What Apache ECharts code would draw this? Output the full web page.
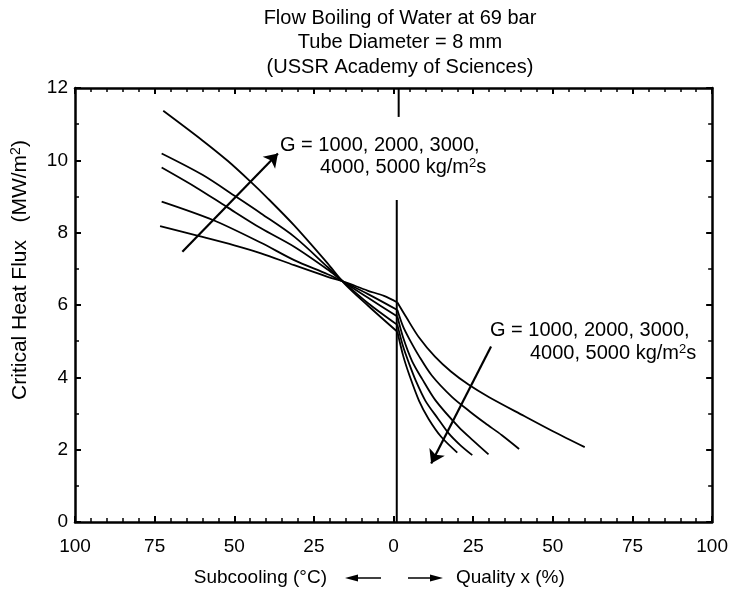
<!DOCTYPE html>
<html><head><meta charset="utf-8">
<script src="https://cdn.jsdelivr.net/npm/echarts@6/dist/echarts.min.js"></script>
<style>html,body{margin:0;padding:0;background:#fff}#c{width:731px;height:606px}</style>
</head><body><div id="c"></div>
<script>
// x < 0 : subcooling (°C), x > 0 : quality x (%)
const massFluxes = [1000, 2000, 3000, 4000, 5000];

const subcooled1000 = [[-73.3,8.18],[-61.3,7.91],[-50,7.65],[-41.6,7.43],[-31.2,7.1],[-20.7,6.78],[-15.5,6.64],[-8.2,6.40],[-3,6.25],[1.2,6.07]];
const subcooled2000 = [[-72.8,8.86],[-56.7,8.35],[-41.6,7.72],[-31.2,7.24],[-20.7,6.85],[-15.5,6.63],[-8,6.3],[1.2,5.86]];
const subcooled3000 = [[-72.8,9.80],[-62,9.25],[-52.5,8.72],[-41.6,8.12],[-31.2,7.61],[-20.7,6.98],[-15.5,6.63],[-8,6.2],[1.2,5.68]];
const subcooled4000 = [[-72.8,10.19],[-60,9.6],[-49.4,8.99],[-41.6,8.53],[-31.2,7.89],[-20.7,7.05],[-15.5,6.62],[-8,6.05],[1.2,5.45]];
const subcooled5000 = [[-72.3,11.37],[-60,10.55],[-52,9.98],[-44.9,9.41],[-39.5,8.95],[-31.2,8.2],[-20.7,7.15],[-15.5,6.6],[-8,5.98],[1.2,5.26]];

const quality1000 = [[1.2,6.07],[4,5.66],[8,5.1],[13,4.57],[18,4.16],[23.5,3.80],[30,3.45],[41,2.93],[50,2.51],[60,2.07]];
const quality2000 = [[1.2,5.86],[3,5.4],[5,5.05],[7.9,4.6],[12,4.05],[18.3,3.46],[24,3.05],[28.8,2.73],[34,2.4],[39.4,2.02]];
const quality3000 = [[1.2,5.68],[3,5.1],[5.8,4.45],[9,3.95],[13.1,3.37],[20.4,2.63],[25,2.25],[29.8,1.87]];
const quality4000 = [[1.2,5.45],[3,4.85],[5,4.35],[7,3.9],[10,3.35],[14,2.85],[17.3,2.45],[21,2.12],[24.7,1.85]];
const quality5000 = [[1.2,5.26],[3,4.6],[5,4.05],[8,3.35],[11,2.85],[15,2.35],[20,1.92]];

const subcooledCurves = [subcooled1000, subcooled2000, subcooled3000, subcooled4000, subcooled5000];
const qualityCurves = [quality1000, quality2000, quality3000, quality4000, quality5000];

const arrowSubcooled = [[-66.3,7.47],[-36.3,10.19]];
const arrowQuality = [[30.6,4.85],[11.8,1.62]];
const saturationLine = [[1,0],[1,8.9]];
const saturationStub = [[1.6,12],[1.6,11.2]];

const titleLines = ['Flow Boiling of Water at 69 bar', 'Tube Diameter = 8 mm', '(USSR Academy of Sciences)'];
const annotationLine1 = 'G = 1000, 2000, 3000,';
const annotationLine2 = '4000, 5000 kg/m{sup|2}s';
const yName = 'Critical Heat Flux   (MW/m{sup|2})';
const xNameLeft = 'Subcooling (°C)';
const xNameRight = 'Quality x (%)';

const FONT = 'Liberation Sans, Arial, Helvetica, sans-serif';
const chart = echarts.init(document.getElementById('c'));

const curveStyle = { color: '#000', width: 1.8 };
const series = [];
massFluxes.forEach((g, i) => {
  [subcooledCurves[i], qualityCurves[i]].forEach(d => {
    series.push({
      type: 'line', name: 'G' + g, data: d, showSymbol: false, smooth: 0.3,
      lineStyle: curveStyle, silent: true, z: 3
    });
  });
});
[saturationLine, saturationStub].forEach(d => series.push({
  type: 'line', data: d, showSymbol: false, lineStyle: { color: '#000', width: 2 }, silent: true
}));
series.push({
  type: 'lines', coordinateSystem: 'cartesian2d',
  data: [{ coords: arrowSubcooled }, { coords: arrowQuality }],
  symbol: ['none', 'arrow'], symbolSize: [1, 13],
  lineStyle: { color: '#000', width: 2.2, opacity: 1 }, silent: true, z: 4
});

const axisLine = { show: true, onZero: false, lineStyle: { color: '#000', width: 2.5 } };
const tick = { show: true, inside: true, length: 6, lineStyle: { color: '#000', width: 2 } };
const labelFont = { color: '#000', fontSize: 19, fontFamily: FONT };
const minor = n => ({ show: true, splitNumber: n, length: 4, lineStyle: { color: '#000', width: 1.5 } });

const supRich = { sup: { fontSize: 13, fontFamily: FONT, verticalAlign: 'top', padding: [0, 0, 8, 0] } };
const supRichY = { sup: { fontSize: 14, fontFamily: FONT, verticalAlign: 'top', padding: [0, 0, 8, 0] } };

chart.setOption({
  animation: false,
  grid: { left: 75, right: 18, top: 88, bottom: 84 },
  xAxis: [{
    type: 'value', min: -100, max: 100, interval: 25, position: 'bottom',
    axisLine, axisTick: tick, minorTick: minor(5), splitLine: { show: false },
    axisLabel: Object.assign({ margin: 15, formatter: v => String(Math.abs(v)) }, labelFont)
  }, {
    type: 'value', min: -100, max: 100, interval: 25, position: 'top',
    axisLine, axisTick: tick, minorTick: minor(5), splitLine: { show: false }, axisLabel: { show: false }
  }],
  yAxis: [{
    type: 'value', min: 0, max: 12, interval: 2, position: 'left',
    axisLine, axisTick: tick, minorTick: minor(2), splitLine: { show: false },
    axisLabel: Object.assign({ margin: 7 }, labelFont)
  }, {
    type: 'value', min: 0, max: 12, interval: 2, position: 'right',
    axisLine, axisTick: tick, minorTick: minor(2), splitLine: { show: false }, axisLabel: { show: false }
  }],
  series,
  graphic: [
    ...titleLines.map((t, i) => ({
      type: 'text', x: 400, y: 18 + i * 24.5,
      style: { text: t, fill: '#000', fontSize: 20, fontFamily: FONT, align: 'center', verticalAlign: 'middle' }
    })),
    { type: 'text', x: 280, y: 145, style: { text: annotationLine1, fill: '#000', fontSize: 20, fontFamily: FONT, align: 'left', verticalAlign: 'middle' } },
    { type: 'text', x: 320, y: 167, style: { text: annotationLine2, fill: '#000', fontSize: 20, fontFamily: FONT, align: 'left', verticalAlign: 'middle', rich: supRich } },
    { type: 'text', x: 490, y: 330, style: { text: annotationLine1, fill: '#000', fontSize: 20, fontFamily: FONT, align: 'left', verticalAlign: 'middle' } },
    { type: 'text', x: 530, y: 353, style: { text: annotationLine2, fill: '#000', fontSize: 20, fontFamily: FONT, align: 'left', verticalAlign: 'middle', rich: supRich } },
    { type: 'text', x: 20, y: 270, rotation: Math.PI / 2,
      style: { text: yName, fill: '#000', fontSize: 21, fontFamily: FONT, align: 'center', verticalAlign: 'middle', rich: supRichY } },
    { type: 'text', x: 327, y: 578, style: { text: xNameLeft, fill: '#000', fontSize: 19, fontFamily: FONT, align: 'right', verticalAlign: 'middle' } },
    { type: 'text', x: 456, y: 578, style: { text: xNameRight, fill: '#000', fontSize: 19, fontFamily: FONT, align: 'left', verticalAlign: 'middle' } },
    { type: 'line', shape: { x1: 352, y1: 578, x2: 381, y2: 578 }, style: { stroke: '#000', lineWidth: 1.5 } },
    { type: 'polygon', shape: { points: [[345, 578], [358, 574.5], [358, 581.5]] }, style: { fill: '#000' } },
    { type: 'line', shape: { x1: 408, y1: 578, x2: 436, y2: 578 }, style: { stroke: '#000', lineWidth: 1.5 } },
    { type: 'polygon', shape: { points: [[443, 578], [430, 574.5], [430, 581.5]] }, style: { fill: '#000' } }
  ]
});
</script></body></html>
